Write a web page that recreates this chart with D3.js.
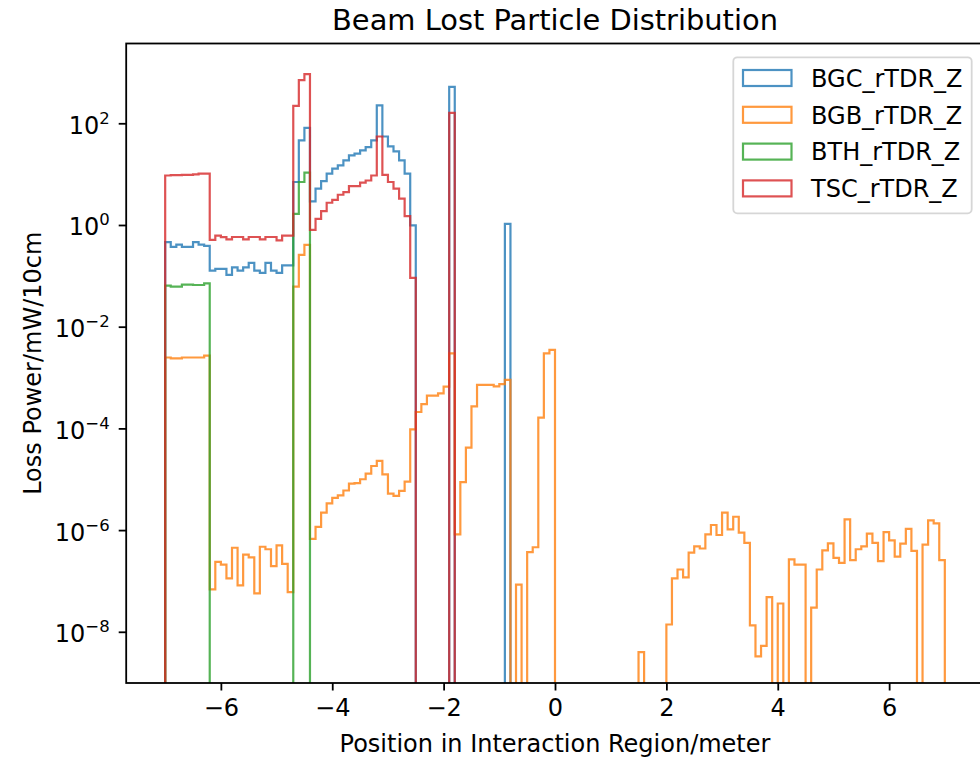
<!DOCTYPE html>
<html><head><meta charset="utf-8">
<script src="https://cdn.jsdelivr.net/npm/d3@7"></script>
<style>
body{margin:0;background:#fff}
svg{display:block}
text{font-family:"DejaVu Sans",sans-serif;fill:#000}
</style>
</head><body>
<svg id="chart" width="980" height="758"></svg>
<script>
// ---------------- data ----------------
const seriesNames = ["BGC_rTDR_Z", "BGB_rTDR_Z", "BTH_rTDR_Z", "TSC_rTDR_Z"];
const binStart = -7;     // first bin edge (m)
const binWidth = 0.1;    // 10 cm bins
const xTicks = [-6, -4, -2, 0, 2, 4, 6];
const yTickExps = [-8, -6, -4, -2, 0, 2];

const BGC = [
  0.46,0.37,0.41,0.37,0.37,0.46,0.41,0.39,0.127,0.137,
  0.137,0.104,0.147,0.127,0.147,0.18,0.127,0.114,0.18,0.127,
  0.114,0.16,0.16,7.0,46,81,2.9,5.2,7.3,10.2,
  12.8,14.9,18.7,23.4,25.3,29.4,34.1,46,226,55,
  35.3,28,18.7,10.2,0.98,0,0,0,0,0,
  0,519,0,0,0,0,0,0,0,0,
  0,1.05,0,0,0,0,0,0,0,0,
  0,0,0,0,0,0,0,0,0,0,
  0,0,0,0,0,0,0,0,0,0,
  0,0,0,0,0,0,0,0,0,0,
  0,0,0,0,0,0,0,0,0,0,
  0,0,0,0,0,0,0,0,0,0,
  0,0,0,0,0,0,0,0,0,0,
  0,0,0,0,0,0,0,0,0,0
];
const BGB = [
  0.00248,0.00238,0.00238,0.00248,0.00248,0.00248,0.00248,0.00269,6.8e-8,2.37e-7,
  2.1e-7,1.12e-7,4.5e-7,8.2e-8,3.3e-7,2.9e-7,5.7e-8,4.7e-7,4.2e-7,1.95e-7,
  5.0e-7,2.17e-7,6.0e-8,0.0614,0.258,0.406,6.7e-7,1.16e-6,2.2e-6,3.35e-6,
  4.3e-6,4.8e-6,6.0e-6,8.2e-6,8.4e-6,1.0e-5,1.29e-5,1.82e-5,2.3e-5,1.25e-5,
  5.2e-6,4.7e-6,5.9e-6,9.0e-6,9.6e-5,2.1e-4,3.0e-4,4.4e-4,4.4e-4,4.9e-4,
  6.6e-4,2.98e-3,8.2e-7,8.8e-6,4.2e-5,2.7e-4,7.2e-4,7.2e-4,7.2e-4,6.7e-4,
  7.4e-4,9.0e-4,0,8.5e-8,0,3.7e-7,4.6e-7,1.63e-4,2.98e-3,3.5e-3,
  0,0,0,0,0,0,0,0,0,0,
  0,0,0,0,0,4.0e-9,0,0,0,0,
  1.39e-8,1.12e-7,1.68e-7,1.18e-7,3.6e-7,4.8e-7,4.35e-7,8.2e-7,1.26e-6,8.0e-7,
  2.2e-6,1.03e-6,1.83e-6,8.9e-7,5.6e-7,1.34e-8,3.3e-9,5.3e-9,4.8e-8,0,
  3.6e-8,0,2.65e-7,2.1e-7,2.1e-7,0,3.0e-8,1.68e-7,4.0e-7,5.5e-7,
  2.85e-7,2.27e-7,1.63e-6,2.56e-7,4.2e-7,4.8e-7,8.5e-7,5.6e-7,2.45e-7,9.1e-7,
  6.3e-7,3.0e-7,5.4e-7,1.06e-6,3.9e-7,0,5.2e-7,1.55e-6,1.35e-6,2.56e-7
];
const BTH = [
  0.0643,0.0614,0.0614,0.0672,0.0672,0.066,0.066,0.0713,0,0,
  0,0,0,0,0,0,0,0,0,0,
  0,0,0,1.66,7.0,10.7,0,0,0,0,
  0,0,0,0,0,0,0,0,0,0,
  0,0,0,0,0,0,0,0,0,0,
  0,0,0,0,0,0,0,0,0,0,
  0,0,0,0,0,0,0,0,0,0,
  0,0,0,0,0,0,0,0,0,0,
  0,0,0,0,0,0,0,0,0,0,
  0,0,0,0,0,0,0,0,0,0,
  0,0,0,0,0,0,0,0,0,0,
  0,0,0,0,0,0,0,0,0,0,
  0,0,0,0,0,0,0,0,0,0,
  0,0,0,0,0,0,0,0,0,0
];
const TSC = [
  9.4,9.6,9.6,9.7,9.7,9.9,10.2,10.2,0.51,0.62,
  0.575,0.52,0.58,0.58,0.52,0.58,0.58,0.52,0.58,0.58,
  0.5,0.62,0.62,219,703,924,0.8,1.32,1.87,2.74,
  3.13,3.93,4.43,5.8,5.8,6.8,7.5,9.4,55,9.7,
  7.0,5.2,3.3,1.49,0.091,0,0,0,0,0,
  0,160,0,0,0,0,0,0,0,0,
  0,0,0,0,0,0,0,0,0,0,
  0,0,0,0,0,0,0,0,0,0,
  0,0,0,0,0,0,0,0,0,0,
  0,0,0,0,0,0,0,0,0,0,
  0,0,0,0,0,0,0,0,0,0,
  0,0,0,0,0,0,0,0,0,0,
  0,0,0,0,0,0,0,0,0,0,
  0,0,0,0,0,0,0,0,0,0
];
const seriesValues = [BGC, BGB, BTH, TSC];
const colors = ["#1f77b4", "#ff7f0e", "#2ca02c", "#d62728"];

// ---------------- layout ----------------
const L = 126.2, R = 983.8, T = 43.5, B = 683;
const svg = d3.select("#chart");
const x = d3.scaleLinear().domain([-7.7, 7.7]).range([L, R]);
const y = d3.scaleLog().domain([Math.pow(10, -9.007), Math.pow(10, 3.569)]).range([B, T]);

svg.append("defs").append("clipPath").attr("id", "clip")
  .append("rect").attr("x", L).attr("y", T).attr("width", R - L).attr("height", B - T);

function stepPoints(vals) {
  const pts = [[binStart, 0]];
  vals.forEach((v, i) => {
    const a = binStart + i * binWidth;
    pts.push([a, v], [a + binWidth, v]);
  });
  pts.push([binStart + vals.length * binWidth, 0]);
  return pts;
}
const line = d3.line()
  .x(d => x(d[0]))
  .y(d => d[1] > 0 ? y(d[1]) : B + 30);

const plot = svg.append("g").attr("clip-path", "url(#clip)");
seriesValues.forEach((vals, k) => {
  plot.append("path")
    .attr("d", line(stepPoints(vals)))
    .attr("fill", "none")
    .attr("stroke", colors[k])
    .attr("stroke-opacity", 0.8)
    .attr("stroke-width", 2.2)
    .attr("stroke-linejoin", "miter");
});

// ---------------- axes ----------------
const fmtMinus = d => (d < 0 ? "\u2212" + Math.abs(d) : String(d));
const xAxis = svg.append("g").attr("transform", `translate(0,${B})`)
  .call(d3.axisBottom(x).tickValues(xTicks).tickSize(7.5).tickPadding(8).tickFormat(fmtMinus));
xAxis.select(".domain").remove();
xAxis.selectAll(".tick line").attr("stroke", "#000").attr("stroke-width", 1.8);
xAxis.selectAll(".tick text").attr("font-size", 24).attr("font-family", "DejaVu Sans").attr("fill", "#000");

const yAxis = svg.append("g").attr("transform", `translate(${L},0)`)
  .call(d3.axisLeft(y).tickValues(yTickExps.map(e => Math.pow(10, e))).tickSize(7.5).tickFormat(""));
yAxis.select(".domain").remove();
yAxis.selectAll(".tick line").attr("stroke", "#000").attr("stroke-width", 1.8);
yAxis.selectAll(".tick").each(function (d, i) {
  const e = yTickExps[i];
  const t = d3.select(this).append("text")
    .attr("x", -16.5).attr("y", 10)
    .attr("text-anchor", "end")
    .attr("font-size", 24)
    .attr("fill", "#000");
  t.append("tspan").text("10");
  t.append("tspan").attr("dy", -10).attr("font-size", 16.5).text(fmtMinus(e));
});

// spines
svg.append("rect").attr("x", L).attr("y", T).attr("width", R - L).attr("height", B - T)
  .attr("fill", "none").attr("stroke", "#000").attr("stroke-width", 1.8);

// ---------------- labels ----------------
svg.append("text").attr("x", (L + R) / 2).attr("y", 30)
  .attr("text-anchor", "middle").attr("font-size", 28.9)
  .text("Beam Lost Particle Distribution");
svg.append("text").attr("x", (L + R) / 2).attr("y", 752)
  .attr("text-anchor", "middle").attr("font-size", 24)
  .text("Position in Interaction Region/meter");
svg.append("text").attr("transform", `translate(41,${(T + B) / 2}) rotate(-90)`)
  .attr("text-anchor", "middle").attr("font-size", 24)
  .text("Loss Power/mW/10cm");

// ---------------- legend ----------------
const lg = svg.append("g");
lg.append("rect").attr("x", 733.3).attr("y", 57.3).attr("width", 238.4).attr("height", 156)
  .attr("rx", 4).attr("fill", "#fff").attr("fill-opacity", 0.8)
  .attr("stroke", "#cccccc").attr("stroke-opacity", 0.8).attr("stroke-width", 1.8);
seriesNames.forEach((name, k) => {
  const cy = 78 + k * 36.8;
  lg.append("rect").attr("x", 743).attr("y", cy - 8).attr("width", 48.5).attr("height", 16)
    .attr("fill", "none").attr("stroke", colors[k]).attr("stroke-opacity", 0.8).attr("stroke-width", 2.2);
  lg.append("text").attr("x", 811).attr("y", cy + 8.8).attr("font-size", 24).text(name);
});
</script>
</body></html>
